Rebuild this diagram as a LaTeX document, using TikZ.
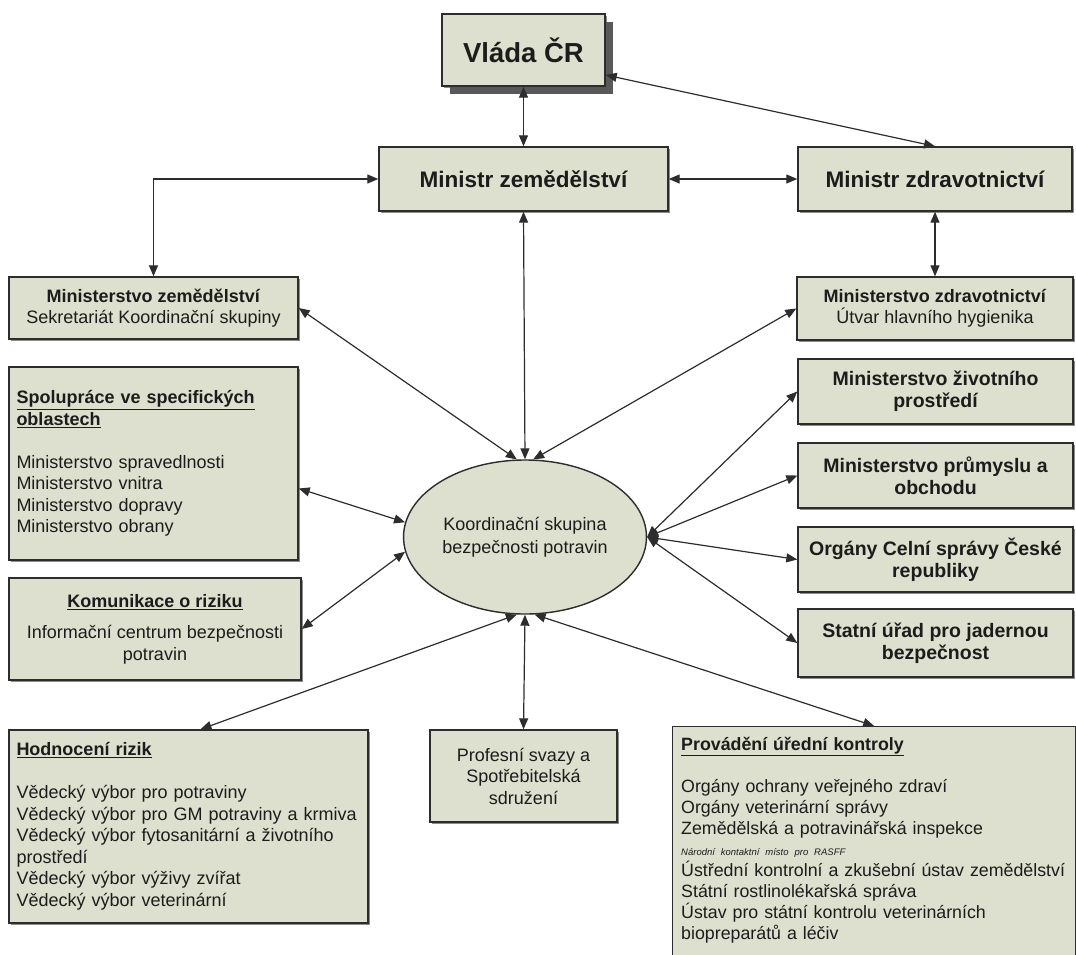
\documentclass[tikz,border=0pt]{standalone}
\usepackage{fontspec}
\setmainfont{Liberation Sans}
\usetikzlibrary{arrows.meta,shapes.geometric,shadows,calc}
\definecolor{boxc}{RGB}{221,224,206}
\definecolor{linec}{RGB}{45,45,45}
\definecolor{textc}{RGB}{28,28,28}
\newcommand{\myfs}[2]{\fontsize{#1}{#2}\selectfont}
\begin{document}
\begin{tikzpicture}[x=1pt,y=-1pt,
  box/.style={draw=linec,line width=1.4pt,fill=boxc,inner sep=0pt,text=textc,align=center,
    drop shadow={shadow xshift=2pt,shadow yshift=-2pt,fill=black!45,opacity=1}},
  bigshadow/.style={drop shadow={shadow xshift=8pt,shadow yshift=-8pt,fill=black!65,opacity=1}},
  link/.style={draw=linec,line width=1.2pt,{Triangle[length=11pt,width=9pt]}-{Triangle[length=11pt,width=9pt]}},
  body/.style={font=\myfs{18}{21.5}},
  headb/.style={font=\myfs{19.5}{22}\bfseries}]
\useasboundingbox[fill=white] (0,0) rectangle (1076,954);

% top
\node[box,bigshadow,minimum width=163pt,minimum height=72pt,font=\myfs{27.5}{32}\bfseries] (vlada) at (523.5,50) {Vláda ČR};
\node[box,minimum width=289pt,minimum height=64pt,font=\myfs{22.5}{26}\bfseries] (mzem) at (523.5,179) {Ministr zemědělství};
\node[box,minimum width=274pt,minimum height=64pt,font=\myfs{22.5}{26}\bfseries] (mzdr) at (935,179) {Ministr zdravotnictví};

% left column
\node[box,minimum width=289pt,minimum height=62pt,font=\myfs{18}{21}] (mze) at (153.5,308)
  {\textbf{Ministerstvo zemědělství}\\Sekretariát Koordinační skupiny};
\node[box,body,minimum width=289pt,minimum height=193pt,text width=274pt,align=left] (spol) at (153.5,463.5)
  {\underline{\textbf{Spolupráce ve specifických}}\\\underline{\textbf{oblastech}}\\[21.5pt]
   Ministerstvo spravedlnosti\\Ministerstvo vnitra\\Ministerstvo dopravy\\Ministerstvo obrany};
\node[box,body,minimum width=292pt,minimum height=102pt] (kom) at (155,629)
  {\underline{\textbf{Komunikace o riziku}}\\[10pt]Informační centrum bezpečnosti\\potravin};
\node[box,body,minimum width=359pt,minimum height=193pt,text width=344pt,align=left] (hod) at (188.5,826.5)
  {\underline{\textbf{Hodnocení rizik}}\\[21.5pt]
   Vědecký výbor pro potraviny\\Vědecký výbor pro GM potraviny a krmiva\\Vědecký výbor fytosanitární a životního\\prostředí\\Vědecký výbor výživy zvířat\\Vědecký výbor veterinární};

% right column
\node[box,minimum width=276pt,minimum height=63pt,font=\myfs{18}{21}] (mzd) at (935,308.5)
  {\textbf{Ministerstvo zdravotnictví}\\Útvar hlavního hygienika};
\node[box,headb,minimum width=275pt,minimum height=65pt] (mzp) at (935.5,391.5) {Ministerstvo životního\\prostředí};
\node[box,headb,minimum width=275pt,minimum height=65pt] (mpo) at (935.5,475.5) {Ministerstvo průmyslu a\\obchodu};
\node[box,headb,minimum width=275pt,minimum height=65pt] (celni) at (935.5,559.5) {Orgány Celní správy České\\republiky};
\node[box,headb,minimum width=275pt,minimum height=68pt] (sujb) at (935.5,643) {Statní úřad pro jadernou\\bezpečnost};

% centre
\node[ellipse,draw=linec,line width=1.4pt,fill=boxc,text=textc,minimum width=224pt,minimum height=154pt,
      align=center,font=\myfs{18}{23}] (ell) at (525,537) {Koordinační skupina\\bezpečnosti potravin};

% bottom
\node[box,body,minimum width=187pt,minimum height=92pt] (prof) at (523.5,776)
  {Profesní svazy a\\Spotřebitelská\\sdružení};
\node[box,minimum width=403pt,minimum height=240pt,anchor=north west] (prov) at (672,726) {};
\node[anchor=north west,text=textc,inner sep=0pt,text width=398pt,align=left,font=\myfs{17.8}{21}] (provtxt) at ($(prov.north west)+(9,11)$)
  {\underline{\textbf{Provádění úřední kontroly}}\\[21pt]
   Orgány ochrany veřejného zdraví\\Orgány veterinární správy\\Zemědělská a potravinářská inspekce\\
   \mbox{\myfs{9.5}{12}\itshape Národní kontaktní místo pro RASFF}\\
   Ústřední kontrolní a zkušební ústav zemědělství\\Státní rostlinolékařská správa\\
   Ústav pro státní kontrolu veterinárních\\biopreparátů a léčiv};

% connectors
\draw[link] (vlada.south) -- (mzem.north);
\draw[link] ($(vlada.east)+(0,25)$) -- (mzdr.north);
\draw[link] (mzem.east) -- (mzdr.west);
\draw[link] (mzem.west) -| (mze.north);
\draw[link] (mzdr.south) -- (mzd.north);
\draw[link] (mzem.south) -- (ell.north);
\draw[link] (mze.east) -- (ell.96);
\draw[link] (mzd.west) -- (ell.84);
\draw[link] ($(spol.east)+(0,25)$) -- (ell.173);
\draw[link] (kom.east) -- (ell.187);
\draw[link] (mzp.west) -- (ell.east);
\draw[link] (mpo.west) -- (ell.east);
\draw[link] (celni.west) -- (ell.east);
\draw[link] (sujb.west) -- (ell.east);
\draw[link] ($(hod.north)+(12,0)$) -- (ell.264);
\draw[link] (prof.north) -- (ell.south);
\draw[link] (prov.north) -- (ell.277);
\end{tikzpicture}
\end{document}
